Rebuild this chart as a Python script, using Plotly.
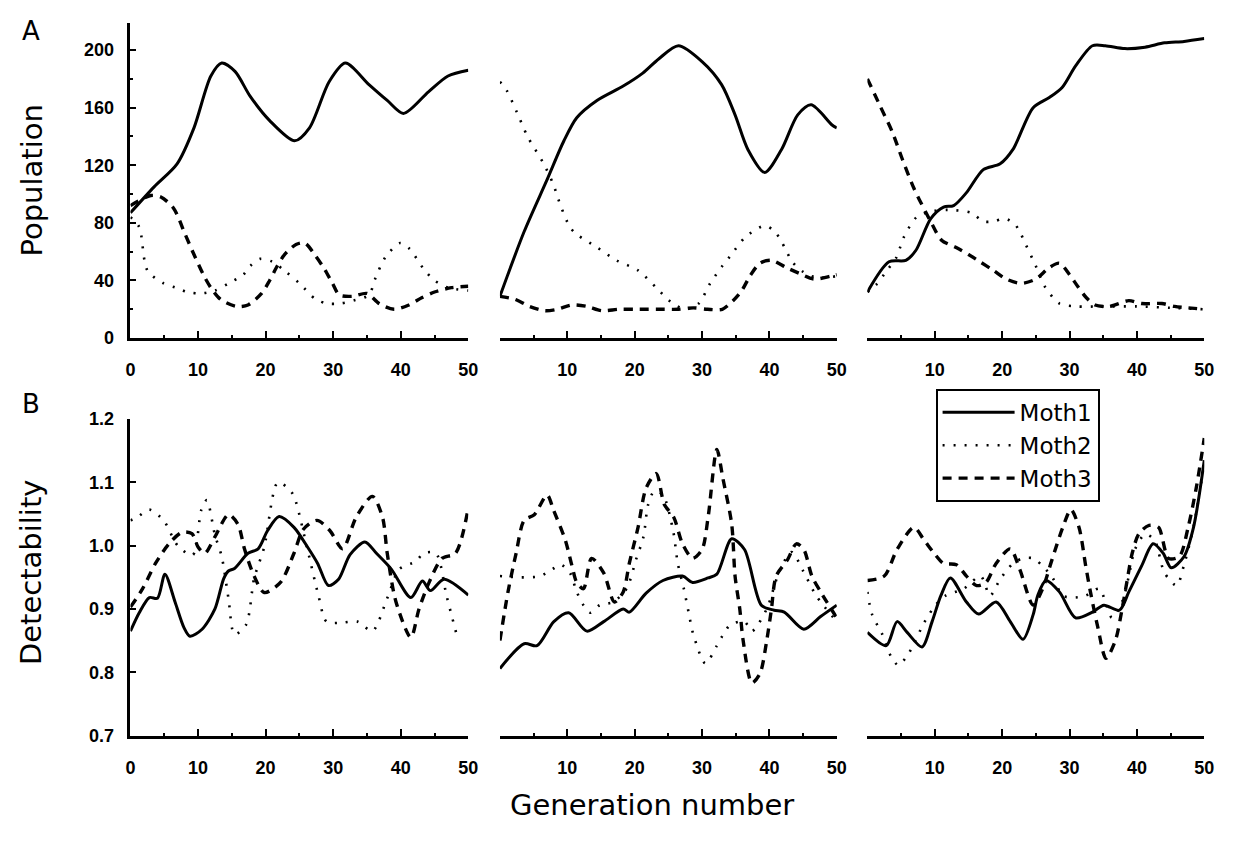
import plotly.graph_objects as go

# ---------------- Panel A: population, three runs ----------------
a1_moth1_gen = [0, 3.5, 6.9, 9.4, 11.9, 13.5, 15.5, 17.7, 20.6, 24.3, 26.5, 29.4, 31.8, 35.3, 38, 40.4, 44.1, 47, 50]
a1_moth1_pop = [87, 105, 121, 146, 182, 191, 185, 168, 151, 137, 146, 178, 191, 176, 165, 156, 171, 182, 186]
a1_moth2_gen = [0, 1.3, 2.5, 4.9, 6.7, 8.4, 10.3, 12.5, 14.5, 16.7, 17.7, 19.2, 21, 23, 25, 27.4, 29.1, 31, 33, 35.3, 36.2, 37.7, 39.9, 41.3, 43.4, 45, 47, 50]
a1_moth2_pop = [84, 77, 47, 38, 35, 32, 31, 33, 38, 44, 50, 55, 53, 46, 38, 27, 24, 24, 26, 30, 41, 56, 66, 62, 48, 40, 35, 33]
a1_moth3_gen = [0, 3, 4.5, 6.4, 8.1, 9.4, 10.9, 11.9, 13.3, 15.7, 17.4, 19.4, 20.6, 21.6, 22.8, 24.5, 25.8, 27.4, 28.7, 29.9, 30.9, 32.8, 35, 36.8, 39, 41.2, 43.1, 45, 47.5, 50]
a1_moth3_pop = [92, 99, 98, 90, 72, 58, 43, 35, 27, 22, 23, 31, 40, 49, 58, 65, 66, 57, 48, 38, 30, 29, 31, 24, 20, 23, 28, 32, 35, 36]

a2_moth1_gen = [0, 3.6, 7, 9.5, 11.4, 14.4, 18.3, 21.2, 23.6, 26.5, 30, 32.9, 34.9, 36.8, 39.3, 41.8, 44.2, 46.2, 49.3, 50]
a2_moth1_pop = [29, 74, 110, 137, 153, 165, 175, 184, 194, 203, 192, 176, 155, 131, 115, 131, 155, 162, 148, 146]
a2_moth2_gen = [0, 1, 2.5, 4.1, 6.5, 7.9, 9, 10.4, 11.4, 14.4, 17.3, 20.5, 23.2, 25.4, 27.5, 29.5, 31.2, 33, 34.2, 36.4, 39.3, 40.8, 41.8, 43.4, 45, 47, 50]
a2_moth2_pop = [178, 172, 157, 140, 121, 107, 92, 77, 72, 63, 54, 47, 35, 25, 20, 24, 38, 50, 57, 70, 78, 74, 67, 53, 46, 42, 43]
a2_moth3_gen = [0, 2.2, 4.4, 6.7, 8.5, 10.7, 12.9, 15.1, 17.6, 19.8, 22, 24.2, 26.5, 28.7, 30.8, 33, 34.6, 35.9, 37.1, 38.6, 40.3, 42.5, 44.4, 46.6, 49.1, 50]
a2_moth3_pop = [29, 27, 22, 19, 20, 23, 22, 19, 20, 20, 20, 20, 20, 21, 20, 20, 26, 33, 43, 52, 54, 49, 45, 41, 43, 44]

a3_moth1_gen = [0, 3.2, 5.7, 7.2, 9.4, 11.3, 12.8, 14.7, 17.2, 19.7, 21.6, 24.6, 27, 28.9, 30.9, 33.4, 35.3, 38.2, 41.2, 44.1, 47, 50]
a3_moth1_pop = [32, 53, 54, 61, 83, 91, 92, 101, 117, 121, 131, 160, 167, 174, 189, 203, 203, 201, 202, 205, 206, 208]
a3_moth2_gen = [0, 1.3, 2.9, 4.3, 5.4, 7.3, 9.5, 12, 15.4, 17.2, 18.7, 20.4, 21.9, 22.8, 23.5, 25, 26.3, 28.5, 31, 35, 40, 45, 50]
a3_moth2_pop = [32, 37, 47, 56, 70, 84, 88, 89, 87, 81, 81, 83, 79, 72, 65, 50, 36, 24, 22, 22, 22, 21, 20]
a3_moth3_gen = [0, 1.8, 3.7, 5.2, 6.9, 8.7, 9.6, 11, 13.1, 15, 16.7, 18.7, 20.6, 22.8, 25, 27, 28.5, 30, 31.2, 32.5, 33.8, 35.9, 38.8, 40.7, 43.7, 45.6, 47.6, 50]
a3_moth3_pop = [180, 162, 143, 124, 104, 87, 79, 68, 63, 58, 53, 47, 41, 38, 41, 49, 52, 44, 36, 28, 23, 22, 26, 24, 24, 22, 21, 20]

# ---------------- Panel B: detectability, three runs ----------------
b1_moth1_gen = [0, 1.3, 2.8, 4, 5.1, 6.6, 7.9, 8.8, 10.6, 12.5, 13.8, 14.5, 15.4, 17.4, 18.9, 20.3, 22, 24.2, 26.2, 27.7, 29.3, 30.8, 32.5, 34.7, 36.4, 38.6, 41.5, 43.2, 44.4, 46.4, 50]
b1_moth1_det = [0.865, 0.894, 0.918, 0.917, 0.955, 0.911, 0.871, 0.857, 0.868, 0.9, 0.948, 0.96, 0.964, 0.988, 0.995, 1.024, 1.046, 1.029, 0.998, 0.972, 0.937, 0.947, 0.986, 1.006, 0.988, 0.963, 0.918, 0.944, 0.929, 0.947, 0.922]
b1_moth2_gen = [0, 1, 2.8, 4.9, 7, 9.2, 10.5, 11.3, 12.5, 13.5, 14.5, 15.4, 17.1, 18.3, 19.8, 21.8, 23.4, 24.2, 26.2, 27.8, 29, 30.9, 33.6, 35.8, 38, 39.8, 42.2, 43.4, 45.2, 46.8, 48.5]
b1_moth2_det = [1.04, 1.045, 1.057, 1.04, 1.0, 0.985, 1.057, 1.072, 1.017, 0.983, 0.917, 0.86, 0.875, 0.948, 0.998, 1.1, 1.09, 1.078, 0.994, 0.922, 0.88, 0.878, 0.88, 0.865, 0.917, 0.963, 0.975, 0.988, 0.988, 0.92, 0.85]
b1_moth3_gen = [0, 1.8, 3.7, 5.7, 7.6, 9.1, 10, 11, 12.5, 14.5, 15.9, 16.9, 18.3, 19.8, 22.2, 24.2, 25.6, 27.6, 29.5, 31.4, 33.4, 35.8, 37.3, 38, 39.3, 41.5, 42.7, 44.2, 46.1, 48.1, 50]
b1_moth3_det = [0.903, 0.932, 0.972, 1.003, 1.021, 1.019, 0.998, 0.988, 1.014, 1.049, 1.034, 0.994, 0.952, 0.926, 0.942, 0.988, 1.026, 1.04, 1.024, 0.995, 1.045, 1.078, 1.045, 0.988, 0.911, 0.855, 0.9, 0.942, 0.98, 0.988, 1.06]

b2_moth1_gen = [0, 3.6, 5.5, 8, 10.2, 12.9, 15.4, 18.3, 19.2, 21.7, 24.2, 27.1, 28.6, 30.9, 32.2, 34.4, 36.3, 38.8, 40.7, 42.2, 45.1, 47.6, 50]
b2_moth1_det = [0.806, 0.845, 0.842, 0.88, 0.894, 0.865, 0.88, 0.9, 0.895, 0.925, 0.945, 0.952, 0.942, 0.949, 0.955, 1.011, 0.994, 0.906, 0.898, 0.895, 0.868, 0.888, 0.906]
b2_moth2_gen = [0, 3, 6, 7.8, 9, 10.4, 11.4, 12.4, 13.4, 14.8, 16.8, 18.8, 20.2, 21.3, 22, 22.9, 24.2, 25.7, 26.4, 27.3, 28, 28.7, 30.5, 32.2, 33, 34.2, 36.3, 37.4, 39.6, 41.5, 43.3, 45, 47, 50]
b2_moth2_det = [0.952, 0.95, 0.952, 0.963, 0.97, 0.957, 0.927, 0.906, 0.894, 0.906, 0.911, 0.932, 0.978, 1.014, 1.065, 1.086, 1.08, 1.024, 0.972, 0.932, 0.895, 0.86, 0.814, 0.842, 0.857, 0.875, 0.88, 0.865, 0.9, 0.96, 0.99, 0.96, 0.92, 0.88]
b2_moth3_gen = [0, 1.2, 2.4, 3.6, 5.1, 7, 8, 9.7, 10.7, 11.4, 12.4, 13.6, 15.4, 17, 18.3, 19.2, 20.5, 21.7, 23.2, 24.4, 25.8, 27.1, 28.6, 30, 30.9, 32.2, 33.1, 34.4, 34.9, 35.6, 36.1, 37.4, 38.6, 39.6, 40.3, 41, 42.7, 44, 45.1, 46.3, 47.6, 50]
b2_moth3_det = [0.85, 0.927, 0.988, 1.04, 1.049, 1.08, 1.055, 1.009, 0.968, 0.942, 0.932, 0.98, 0.957, 0.911, 0.927, 0.972, 1.029, 1.091, 1.114, 1.065, 1.045, 1.003, 0.98, 0.994, 1.045, 1.152, 1.106, 1.034, 0.952, 0.9, 0.85, 0.783, 0.798, 0.85, 0.9, 0.952, 0.978, 1.003, 0.994, 0.952, 0.927, 0.886]

b3_moth1_gen = [0, 2.8, 4.4, 5.9, 8.1, 9.6, 10.9, 12.3, 14.7, 16.5, 19.1, 21.2, 23.1, 24.6, 25.3, 26.5, 28.5, 30.9, 33.4, 35.1, 37.4, 38.8, 40.7, 42.4, 43.9, 45.1, 47, 48.4, 50]
b3_moth1_det = [0.863, 0.842, 0.88, 0.863, 0.84, 0.88, 0.921, 0.949, 0.911, 0.892, 0.911, 0.88, 0.852, 0.891, 0.922, 0.945, 0.927, 0.886, 0.895, 0.906, 0.898, 0.927, 0.968, 1.003, 0.988, 0.965, 0.983, 1.029, 1.135]
b3_moth2_gen = [0, 0.7, 2.2, 3.5, 4.6, 5.9, 6.9, 8.4, 10.1, 11.6, 14.3, 16.8, 18.2, 19.7, 21.6, 23.1, 24.6, 26, 27.5, 29, 30.4, 32.4, 34.4, 36.3, 37.8, 38.8, 39.7, 41.2, 42.6, 44.1, 45.9, 47, 48.4, 50]
b3_moth2_det = [0.927, 0.891, 0.86, 0.825, 0.811, 0.826, 0.845, 0.878, 0.906, 0.921, 0.932, 0.952, 0.921, 0.947, 0.972, 0.98, 0.98, 0.968, 0.949, 0.921, 0.918, 0.921, 0.932, 0.886, 0.911, 0.952, 0.994, 1.018, 1.009, 0.957, 0.937, 0.97, 1.03, 1.13]
b3_moth3_gen = [0, 2.5, 4.4, 6.9, 8.4, 9.9, 11.3, 13.2, 14.7, 16.2, 17.6, 19.1, 21.2, 22.6, 24.6, 26, 27.4, 29, 30.2, 31.4, 32.4, 33.1, 34.2, 35.4, 36.8, 37.8, 38.5, 39.3, 40.3, 41.8, 43.2, 44.7, 46.3, 47.6, 48.8, 50]
b3_moth3_det = [0.945, 0.952, 0.994, 1.029, 1.009, 0.988, 0.972, 0.97, 0.952, 0.937, 0.942, 0.972, 0.995, 0.963, 0.906, 0.932, 0.978, 1.029, 1.057, 1.029, 0.968, 0.927, 0.871, 0.822, 0.85, 0.9, 0.942, 0.988, 1.019, 1.032, 1.029, 0.98, 0.983, 1.029, 1.091, 1.17]

moth_names = ["Moth1", "Moth2", "Moth3"]
pop_ticks = [0, 40, 80, 120, 160, 200]
pop_minor = [20, 60, 100, 140, 180]
det_ticks = [0.7, 0.8, 0.9, 1.0, 1.1, 1.2]
det_tick_text = ["0.7", "0.8", "0.9", "1.0", "1.1", "1.2"]
gen_ticks = [0, 10, 20, 30, 40, 50]
gen_minor = [5, 15, 25, 35, 45]

panels = [
    [(a1_moth1_gen, a1_moth1_pop), (a1_moth2_gen, a1_moth2_pop), (a1_moth3_gen, a1_moth3_pop)],
    [(a2_moth1_gen, a2_moth1_pop), (a2_moth2_gen, a2_moth2_pop), (a2_moth3_gen, a2_moth3_pop)],
    [(a3_moth1_gen, a3_moth1_pop), (a3_moth2_gen, a3_moth2_pop), (a3_moth3_gen, a3_moth3_pop)],
    [(b1_moth1_gen, b1_moth1_det), (b1_moth2_gen, b1_moth2_det), (b1_moth3_gen, b1_moth3_det)],
    [(b2_moth1_gen, b2_moth1_det), (b2_moth2_gen, b2_moth2_det), (b2_moth3_gen, b2_moth3_det)],
    [(b3_moth1_gen, b3_moth1_det), (b3_moth2_gen, b3_moth2_det), (b3_moth3_gen, b3_moth3_det)],
]

line_styles = [
    dict(color="black", width=3, dash="solid"),
    dict(color="black", width=2.6, dash="2px,9px"),
    dict(color="black", width=3.4, dash="9px,7px"),
]

W, H = 1238, 850
px = lambda v: v / W
py = lambda v: 1 - v / H

col_domains = [[px(127), px(469)], [px(501), px(842)], [px(873), px(1214)]]
row_domains = [[py(336), py(13)], [py(743), py(419)]]
row_ranges = [[0, 219], [0.7, 1.2]]

fig = go.Figure()

for idx, series in enumerate(panels):
    n = idx + 1
    suffix = "" if n == 1 else str(n)
    for k, (gx, gy) in enumerate(series):
        fig.add_trace(go.Scatter(
            x=gx, y=gy, mode="lines", name=moth_names[k],
            line=dict(shape="spline", smoothing=0.8, **line_styles[k]),
            xaxis="x" + suffix, yaxis="y" + suffix,
            showlegend=(idx == 3), legendrank=k + 1,
        ))

tick_font = dict(family="Liberation Sans, Arial, sans-serif", size=18, color="black", weight="bold")
minor_tick = dict(tickmode="array", ticks="inside", ticklen=3, tickwidth=1.5, tickcolor="black")
layout_axes = {}
for idx in range(6):
    n = idx + 1
    row, col = divmod(idx, 3)
    suffix = "" if n == 1 else str(n)
    gen_text = [str(t) for t in gen_ticks]
    if col > 0:
        gen_text[0] = ""
    layout_axes["xaxis" + suffix] = dict(
        domain=col_domains[col], range=[0, 50], anchor="y" + suffix,
        showline=True, linecolor="black", linewidth=2.5,
        showgrid=False, zeroline=False,
        tickmode="array", tickvals=gen_ticks, ticktext=gen_text,
        ticks="inside", ticklen=7, tickwidth=2, tickcolor="black",
        minor=dict(tickvals=gen_minor, **minor_tick),
        tickfont=tick_font, ticklabelstandoff=14,
    )
    yaxis = dict(
        domain=row_domains[row], range=row_ranges[row], anchor="x" + suffix,
        showgrid=False, zeroline=False,
    )
    if col == 0:
        if row == 0:
            yaxis.update(tickvals=pop_ticks, ticktext=[str(t) for t in pop_ticks],
                         minor=dict(tickvals=pop_minor, **minor_tick))
        else:
            yaxis.update(tickvals=det_ticks, ticktext=det_tick_text)
        yaxis.update(showline=True, linecolor="black", linewidth=2.5, tickmode="array",
                     ticks="inside", ticklen=6, tickwidth=2, tickcolor="black",
                     tickfont=tick_font, ticklabelstandoff=10)
    else:
        yaxis.update(showline=False, showticklabels=False, ticks="")
    layout_axes["yaxis" + suffix] = yaxis

title_font = dict(family="DejaVu Sans, sans-serif", size=29, color="black")
letter_font = dict(family="DejaVu Sans, sans-serif", size=26, color="black")
annotations = [
    dict(text="A", x=px(26), y=py(22), font=letter_font),
    dict(text="B", x=px(26), y=py(404), font=letter_font),
    dict(text="Population", x=px(27), y=py(175), textangle=-90, font=title_font),
    dict(text="Detectability", x=px(27), y=py(576), textangle=-90, font=title_font),
    dict(text="Generation number", x=px(655), y=py(814), font=title_font),
]
for a in annotations:
    a.update(xref="paper", yref="paper", showarrow=False, xanchor="center", yanchor="middle")

fig.update_layout(
    width=W, height=H, margin=dict(l=0, r=0, t=0, b=0),
    paper_bgcolor="white", plot_bgcolor="white",
    showlegend=True,
    legend=dict(x=px(942), y=py(388), xanchor="left", yanchor="top",
                bgcolor="white", bordercolor="black", borderwidth=2,
                font=dict(family="DejaVu Sans, sans-serif", size=23, color="black"),
                tracegroupgap=0, itemwidth=72),
    annotations=annotations,
    **layout_axes,
)

fig.write_html("out.html")
